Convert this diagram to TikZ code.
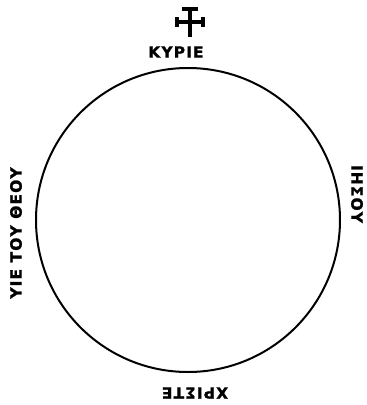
\documentclass[tikz,border=0pt]{standalone}
\usepackage{fontspec}
\newfontfamily\grk[LetterSpace=7,BoldFeatures={FakeBold=1.2}]{DejaVu Sans}
\begin{document}
\begin{tikzpicture}[x=1pt,y=-1pt,
  lbl/.style={font=\grk\bfseries\fontsize{15.5}{15.5}\selectfont, inner sep=0pt, text=black},
  ring/.style={draw=black, line width=2pt},
  crossln/.style={draw=black, line width=4pt}]
\useasboundingbox (0,0) rectangle (367,405);
\node[ring, circle, minimum size=304pt, inner sep=0pt] (c) at (188,220) {};
\node[lbl] (top) at (176,52) {ΚΥΡΙΕ};
\node[lbl, rotate=-90] (right) at (357,194) {ΙΗΣΟΥ};
\node[lbl, rotate=180] (bottom) at (195,393) {ΧΡΙΣΤΕ};
\node[lbl, rotate=90] (left) at (16,233) {ΥΙΕ ΤΟΥ ΘΕΟΥ};
% cross
\coordinate (ct) at (190,9);
\coordinate (cb) at (190,37);
\coordinate (cl) at (177,22);
\coordinate (cr) at (203,22);
\draw[crossln] (ct) -- (cb);
\draw[crossln] (cl) -- (cr);
\draw[crossln] ([xshift=-8pt]ct) -- ([xshift=8pt]ct);
\draw[crossln] ([yshift=-5pt]cl) -- ([yshift=5pt]cl);
\draw[crossln] ([yshift=-5pt]cr) -- ([yshift=5pt]cr);
\end{tikzpicture}
\end{document}
